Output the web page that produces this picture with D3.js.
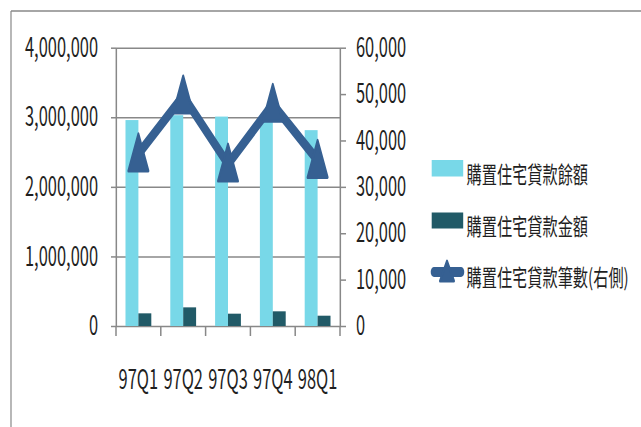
<!DOCTYPE html>
<html lang="zh-Hant">
<head>
<meta charset="UTF-8">
<title>購置住宅貸款</title>
<script src="https://cdn.jsdelivr.net/npm/d3@7"></script>
<style>
  html, body { margin: 0; padding: 0; background: #fff; }
  #chart { width: 641px; height: 427px; }
  text { font-family: "Noto Sans CJK TC", "Noto Sans", sans-serif; fill: #1f1f1f; }
</style>
</head>
<body>
<div id="chart"></div>
<script>
const quarters = ["97Q1", "97Q2", "97Q3", "97Q4", "98Q1"];
const balance = [2960000, 3030000, 3010000, 2950000, 2815000];   // 購置住宅貸款餘額
const amount = [182000, 268000, 177000, 211000, 148000];          // 購置住宅貸款金額
const counts = [37100, 49600, 34900, 47800, 35700];               // 筆數 (right axis)
const leftTicks = [0, 1000000, 2000000, 3000000, 4000000];
const rightTicks = [0, 10000, 20000, 30000, 40000, 50000, 60000];
const seriesNames = ["購置住宅貸款餘額", "購置住宅貸款金額", "購置住宅貸款筆數(右側)"];

// the source picture is squeezed sideways: draw in a wider box and squash it back
const squeeze = 0.655;
const W = 641, H = 427, VW = W / squeeze;
const X = px => px / squeeze;
// digits of the fallback font are a bit wider than the original ones
const narrow = 0.93;

const lightBlue = "#78d8e8", darkTeal = "#215a67", lineBlue = "#366092", grey = "#888888";

const svg = d3.select("#chart").append("svg")
    .attr("width", W).attr("height", H)
    .attr("viewBox", `0 0 ${VW} ${H}`)
    .attr("preserveAspectRatio", "none");

// outer frame (only top and left are visible)
svg.append("line").attr("x1", X(11)).attr("x2", VW).attr("y1", 11).attr("y2", 11)
    .attr("stroke", grey).attr("stroke-width", 1.3);
svg.append("line").attr("x1", X(11)).attr("x2", X(11)).attr("y1", 11).attr("y2", H)
    .attr("stroke", grey).attr("stroke-width", X(1.2));

const plot = { left: X(116), right: X(340), top: 47.7, bottom: 326 };

let x0 = d3.scaleBand().domain(quarters).range([plot.left, plot.right]);
let x1 = d3.scaleBand().domain(["bal", "amt"]).range([0, x0.bandwidth()]).paddingOuter(0.736);
let yL = d3.scaleLinear().domain([0, 4000000]).range([plot.bottom, plot.top]);
let yR = d3.scaleLinear().domain([0, 60000]).range([plot.bottom, plot.top]);

let numText = g => g.selectAll("text")
    .attr("font-size", 27).attr("font-family", null).attr("fill", null)
    .attr("x", function () { return (+d3.select(this).attr("x") || 0) / narrow; })
    .attr("transform", `scale(${narrow},1)`);

// gridlines
svg.append("g")
    .attr("transform", `translate(${plot.left},0)`)
    .call(d3.axisLeft(yL).tickValues(leftTicks).tickSize(-(plot.right - plot.left)).tickFormat(""))
    .call(g => g.select(".domain").remove())
    .call(g => g.selectAll(".tick line").attr("stroke", grey).attr("stroke-width", 1.5));

// left axis
svg.append("g")
    .attr("transform", `translate(${plot.left},0)`)
    .call(d3.axisLeft(yL).tickValues(leftTicks).tickSize(X(5)).tickSizeOuter(0)
        .tickPadding(X(13)).tickFormat(d3.format(",")))
    .call(g => g.select(".domain").attr("stroke", grey).attr("stroke-width", X(1.5)))
    .call(g => g.selectAll(".tick line").attr("stroke", grey).attr("stroke-width", 1.5))
    .call(numText);

// right axis
svg.append("g")
    .attr("transform", `translate(${plot.right},0)`)
    .call(d3.axisRight(yR).tickValues(rightTicks).tickSize(X(6)).tickSizeOuter(0)
        .tickPadding(X(10)).tickFormat(d3.format(",")))
    .call(g => g.select(".domain").attr("stroke", grey).attr("stroke-width", X(1.5)))
    .call(g => g.selectAll(".tick line").attr("stroke", grey).attr("stroke-width", 1.5))
    .call(numText);

// bottom axis: labels at the middle, tick marks between categories
svg.append("g")
    .attr("transform", `translate(0,${plot.bottom})`)
    .call(d3.axisBottom(x0).tickSize(0).tickSizeOuter(0))
    .call(g => g.select(".domain").remove())
    .call(numText)
    .call(g => g.selectAll("text").attr("y", 63).attr("dy", 0));

let edges = quarters.map(q => x0(q)).concat([plot.right]);
svg.append("g").selectAll("line").data(edges).join("line")
    .attr("x1", d => d).attr("x2", d => d)
    .attr("y1", plot.bottom).attr("y2", plot.bottom + 10)
    .attr("stroke", grey).attr("stroke-width", X(1.5));

// bars
let bars = svg.append("g");
bars.selectAll(".bal").data(balance).join("rect")
    .attr("class", "bal")
    .attr("x", (d, i) => x0(quarters[i]) + x1("bal"))
    .attr("width", x1.bandwidth())
    .attr("y", d => yL(d))
    .attr("height", d => plot.bottom - yL(d))
    .attr("fill", lightBlue);
bars.selectAll(".amt").data(amount).join("rect")
    .attr("class", "amt")
    .attr("x", (d, i) => x0(quarters[i]) + x1("amt"))
    .attr("width", x1.bandwidth())
    .attr("y", d => yL(d))
    .attr("height", d => plot.bottom - yL(d))
    .attr("fill", darkTeal);

// line on the right axis
let cx = i => x0(quarters[i]) + x0.bandwidth() / 2;
let line = d3.line().x((d, i) => cx(i)).y(d => yR(d));
svg.append("path").datum(counts)
    .attr("d", line)
    .attr("fill", "none")
    .attr("stroke", lineBlue)
    .attr("stroke-width", 10.5)
    .attr("stroke-linejoin", "round")
    .attr("stroke-linecap", "round");

let tri = (w, top, bot) => `M0,${-top}L${w},${bot}L${-w},${bot}Z`;
svg.append("g").selectAll("path").data(counts).join("path")
    .attr("transform", (d, i) => `translate(${cx(i)},${yR(d)})`)
    .attr("d", tri(X(10), 20, 17))
    .attr("fill", lineBlue)
    .attr("stroke", lineBlue)
    .attr("stroke-width", 3)
    .attr("stroke-linejoin", "round");

// legend
let legend = svg.append("g");
legend.append("rect").attr("x", X(431.7)).attr("y", 160).attr("width", X(31.5)).attr("height", 16.5)
    .attr("fill", lightBlue);
legend.append("rect").attr("x", X(431.7)).attr("y", 212.5).attr("width", X(31.5)).attr("height", 16)
    .attr("fill", darkTeal);
legend.append("line").attr("x1", X(434)).attr("x2", X(461)).attr("y1", 272).attr("y2", 272)
    .attr("stroke", lineBlue).attr("stroke-width", 10).attr("stroke-linecap", "round");
legend.append("path")
    .attr("transform", `translate(${X(447)},272)`)
    .attr("d", tri(X(7), 11, 9))
    .attr("fill", lineBlue).attr("stroke", lineBlue).attr("stroke-width", 3).attr("stroke-linejoin", "round");

legend.selectAll("text").data(seriesNames).join("text")
    .attr("x", X(466.5))
    .attr("y", (d, i) => [183, 235, 286][i])
    .attr("font-size", 23.2)
    .text(d => d);
</script>
</body>
</html>
